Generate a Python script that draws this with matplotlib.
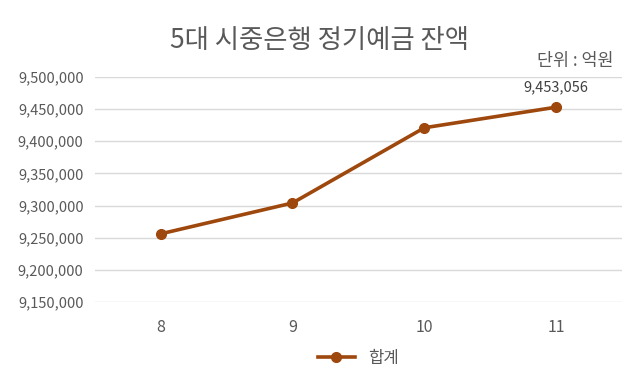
import numpy as np
import matplotlib
matplotlib.use('Agg')
import matplotlib.pyplot as plt
from matplotlib.ticker import FuncFormatter
#==============================================================

plt.rcParams['font.family'] = ['Noto Sans CJK KR', 'DejaVu Sans']

months = ['8', '9', '10', '11']
total = [9256000, 9304000, 9421000, 9453056]
title = '5대 시중은행 정기예금 잔액'
unit = '단위 : 억원'
series_name = '합계'

lcol = '#9E480E'
gcol = '#595959'

fig = plt.figure(figsize=(6.4, 3.83), dpi=100)
ax = fig.add_axes([0.148, 0.2115, 0.824, 0.5875])

x = np.arange(len(months))
ax.plot(x, total, '-o', color=lcol, lw=2.6, ms=7, label=series_name)
ax.annotate('{:,}'.format(total[-1]), (x[-1], total[-1]), xytext=(0, 9),
            textcoords='offset points', ha='center', va='bottom', fontsize=10.5, color='#404040')

ax.set_xlim(-0.5, len(months) - 0.5)
ax.set_ylim(9150000, 9500000)
ax.set_yticks(np.arange(9150000, 9500001, 50000))
ax.yaxis.set_major_formatter(FuncFormatter(lambda v, p: '{:,.0f}'.format(v)))
ax.set_xticks(x)
ax.set_xticklabels(months)
ax.grid(axis='y', color='#d9d9d9', lw=1)
ax.set_axisbelow(True)
for s in ax.spines.values():
    s.set_visible(False)
ax.tick_params(axis='both', length=0, colors=gcol, labelsize=10.5)
ax.tick_params(axis='x', pad=12, labelsize=11.5)
ax.tick_params(axis='y', pad=8)

fig.text(0.5, 0.895, title, ha='center', va='center', fontsize=19, color=gcol)
fig.text(0.958, 0.84, unit, ha='right', va='center', fontsize=12.5, color=gcol)

ax.legend(loc='center', bbox_to_anchor=(0.5, -0.25), frameon=False, fontsize=12,
          labelcolor=gcol, handlelength=2.2)

plt.savefig('out.png', dpi=100)
